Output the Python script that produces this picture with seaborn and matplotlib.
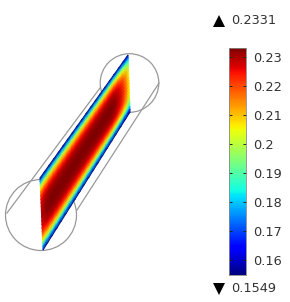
import numpy as np
import seaborn as sns
import matplotlib.pyplot as plt
from matplotlib.patches import Circle

# surface values
vmin = 0.1549
vmax = 0.2331
across = [0.1549, 0.178, 0.197, 0.210, 0.219, 0.225, 0.229, 0.231, 0.232, 0.233, 0.2331,
          0.233, 0.232, 0.231, 0.229, 0.225, 0.219, 0.210, 0.197, 0.178, 0.1549]
along = [0.229, 0.232, 0.2331, 0.2331, 0.2331, 0.2331, 0.2331, 0.2331, 0.2331, 0.2331, 0.2331,
         0.2331, 0.2331, 0.2331, 0.2331, 0.2331, 0.232, 0.228, 0.221, 0.207]

tick_values = [0.23, 0.22, 0.21, 0.2, 0.19, 0.18, 0.17, 0.16]
tick_labels = ['0.23', '0.22', '0.21', '0.2', '0.19', '0.18', '0.17', '0.16']

fig = plt.figure(figsize=(2.9, 3.02), dpi=100)
ax = fig.add_axes([0, 0, 1, 1])
ax.set_xlim(0, 290)
ax.set_ylim(302, 0)
ax.axis('off')

# wireframe of the cylinder
for cx, cy, r in [(41, 215, 35.5), (129.5, 83, 29.3)]:
    ax.add_patch(Circle((cx, cy), r, fill=False, ec='#999999', lw=0.9))
ax.plot([7, 100], [213, 88], color='#999999', lw=0.9)
ax.plot([159, 77], [83, 210], color='#999999', lw=0.9)

# the cut plane, a four sided patch in perspective
excess = (np.array(across) - vmin) / (vmax - vmin)
field = vmin + np.outer(excess, np.array(along) - vmin)
s = np.linspace(0, 1, len(along))
t = np.linspace(0, 1, len(across))[:, None]
upper_x, upper_y = 40 + 88 * s, 178 - 123 * s
lower_x, lower_y = 43 + 87 * s, 250 - 138 * s
X = upper_x + (lower_x - upper_x) * t
Y = upper_y + (lower_y - upper_y) * t
ax.pcolormesh(X, Y, field, shading='gouraud', cmap='jet', vmin=vmin, vmax=vmax)

# colour bar
cax = fig.add_axes([228.5 / 290, 1 - 275 / 302, 17 / 290, 227 / 302])
levels = np.linspace(vmax, vmin, 256)[:, None]
sns.heatmap(levels, ax=cax, cmap='jet', vmin=vmin, vmax=vmax, cbar=False, xticklabels=False)
cax.set_yticks([(vmax - v) / (vmax - vmin) * 256 for v in tick_values])
cax.set_yticklabels(tick_labels, rotation=0, fontsize=9.3, color='#333333')
cax.tick_params(axis='y', direction='in', length=2.5, width=0.7, left=True, right=True,
                labelleft=False, labelright=True, pad=5.5, color='#222222')
for side in cax.spines.values():
    side.set_visible(True)
    side.set_color('#888888')
    side.set_linewidth(0.6)

# max and min markers
ax.plot(219, 21, marker='^', ms=8.5, color='black', mew=0)
ax.text(231, 21, '0.2331', fontsize=9.3, va='center', color='#333333')
ax.plot(219, 289, marker='v', ms=8.5, color='black', mew=0)
ax.text(231, 289, '0.1549', fontsize=9.3, va='center', color='#333333')

plt.savefig('out.png', dpi=100)
